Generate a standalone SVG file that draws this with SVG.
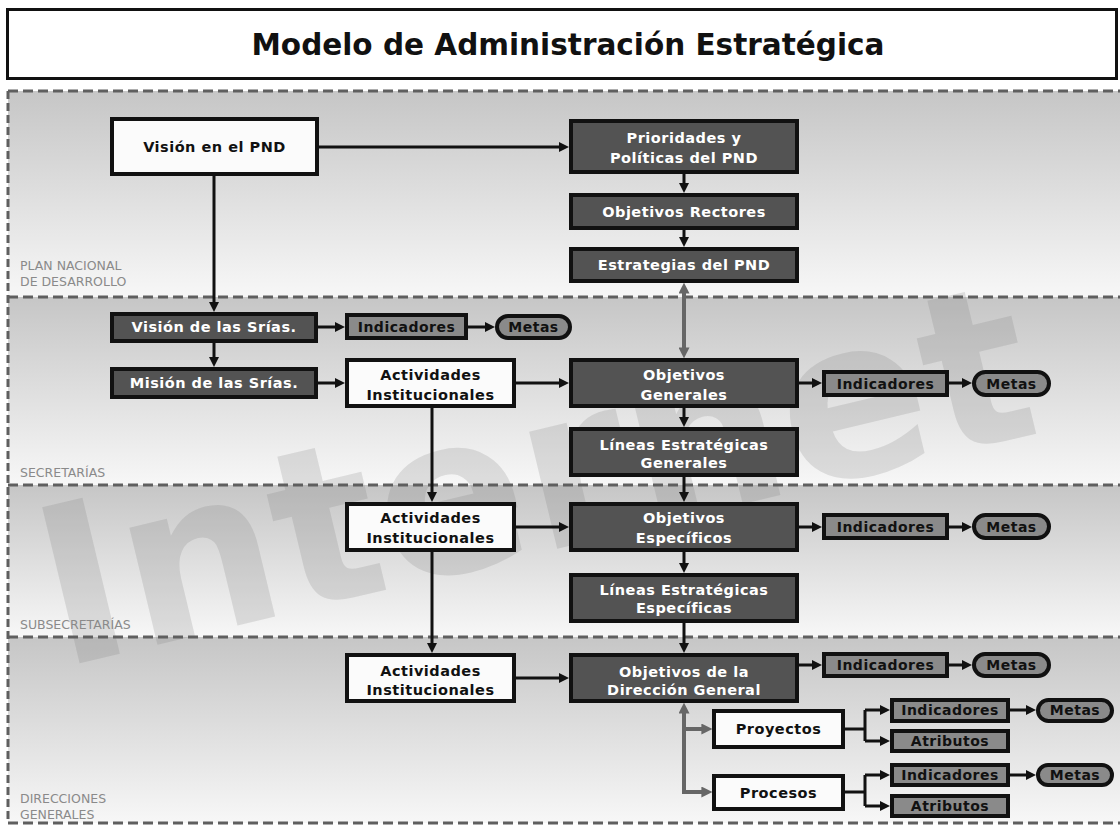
<svg xmlns="http://www.w3.org/2000/svg" width="1120" height="826" viewBox="0 0 1120 826">
<defs>
<linearGradient id="bg" x1="0" y1="0" x2="0" y2="1">
<stop offset="0" stop-color="#c6c6c6"/>
<stop offset="1" stop-color="#f7f7f7"/>
</linearGradient>
<marker id="ah" viewBox="0 0 10 10" refX="6" refY="5" markerWidth="10" markerHeight="10" markerUnits="userSpaceOnUse" orient="auto-start-reverse">
<path d="M0,0 L10,5 L0,10 z" fill="#111"/>
</marker>
<marker id="gh" viewBox="0 0 10 10" refX="6" refY="5" markerWidth="11" markerHeight="11" markerUnits="userSpaceOnUse" orient="auto-start-reverse">
<path d="M0,0 L10,5 L0,10 z" fill="#666"/>
</marker>
<style>
.nd rect{stroke:#111;stroke-width:4}
.dark{fill:#535353}
.white{fill:#fbfbfb}
.gray{fill:#8a8a8a}
.t{font-family:"DejaVu Sans",Verdana,sans-serif;font-weight:bold;font-size:14.5px;text-anchor:middle;letter-spacing:0.5px}
.s{font-size:14px}
.tw{fill:#ffffff}
.tb{fill:#111111}
.lbl{font-family:"DejaVu Sans",sans-serif;font-size:12.5px;fill:#8a8a8a}
.ln{fill:none;stroke:#111;stroke-width:3;marker-end:url(#ah)}
.lp{fill:none;stroke:#111;stroke-width:3}
.gl{fill:none;stroke:#666;stroke-width:4}
.dash{stroke:#5f5f5f;stroke-width:3;stroke-dasharray:10 5;fill:none}
</style>
</defs>

<rect x="0" y="0" width="1120" height="826" fill="#ffffff"/>

<!-- bands -->
<g id="bands">
<rect x="8" y="91" width="1112" height="206" fill="url(#bg)"/>
<rect x="8" y="297" width="1112" height="188" fill="url(#bg)"/>
<rect x="8" y="485" width="1112" height="152" fill="url(#bg)"/>
<rect x="8" y="637" width="1112" height="186" fill="url(#bg)"/>
</g>

<!-- watermark -->
<text x="60" y="668" transform="rotate(-13.5 60 668)" font-family="DejaVu Sans, sans-serif" font-weight="bold" font-size="220" fill="#7a7a7a" fill-opacity="0.2">Internet</text>

<g id="band-lines">
<path class="dash" d="M8,91 H1120 M8,297 H1120 M8,485 H1120 M8,637 H1120 M8,823 H1120"/>
<path class="dash" d="M8,91 V823" style="stroke-dasharray:8 4"/>
</g>

<g id="band-labels">
<text class="lbl" x="20" y="270">PLAN NACIONAL</text>
<text class="lbl" x="20" y="286">DE DESARROLLO</text>
<text class="lbl" x="20" y="477">SECRETARÍAS</text>
<text class="lbl" x="20" y="629">SUBSECRETARÍAS</text>
<text class="lbl" x="20" y="803">DIRECCIONES</text>
<text class="lbl" x="20" y="819">GENERALES</text>
</g>

<g id="title">
<rect x="7.5" y="9.5" width="1109" height="69" fill="#ffffff" stroke="#111" stroke-width="3"/>
<text x="568" y="55" text-anchor="middle" font-family="DejaVu Sans, Verdana, sans-serif" font-weight="bold" font-size="29.5" fill="#111">Modelo de Administración Estratégica</text>
</g>

<g id="connectors">
<path class="ln" d="M319,147 H565"/>
<path class="ln" d="M214,176 V308"/>
<path class="ln" d="M684,174 V189"/>
<path class="ln" d="M684,230 V243"/>
<path class="ln" d="M318,327 H341"/>
<path class="ln" d="M468,327 H491"/>
<path class="ln" d="M214,343 V363"/>
<path class="ln" d="M318,383 H341"/>
<path class="ln" d="M516,383 H565"/>
<path class="ln" d="M799,383 H818"/>
<path class="ln" d="M949,383 H968"/>
<path class="ln" d="M684,408 V423"/>
<path class="ln" d="M684,477 V498"/>
<path class="ln" d="M432,408 V498"/>
<path class="ln" d="M516,527 H565"/>
<path class="ln" d="M799,527 H818"/>
<path class="ln" d="M949,527 H968"/>
<path class="ln" d="M684,552 V569"/>
<path class="ln" d="M684,623 V649"/>
<path class="ln" d="M432,552 V649"/>
<path class="ln" d="M516,678 H565"/>
<path class="ln" d="M799,665 H818"/>
<path class="ln" d="M949,665 H968"/>
<path class="lp" d="M845,729 H865 M865,710 V741"/>
<path class="ln" d="M865,710 H886"/>
<path class="ln" d="M865,741 H886"/>
<path class="ln" d="M1010,710 H1032"/>
<path class="lp" d="M845,792 H865 M865,775 V806"/>
<path class="ln" d="M865,775 H886"/>
<path class="ln" d="M865,806 H886"/>
<path class="ln" d="M1010,775 H1032"/>
<path class="gl" d="M684,287 V354" marker-start="url(#gh)" marker-end="url(#gh)"/>
<path class="gl" d="M684,707 V792 H708" marker-start="url(#gh)" marker-end="url(#gh)"/>
<path class="gl" d="M684,729 H708" marker-end="url(#gh)"/>
</g>

<g id="vision-pnd" class="nd"><rect class="white" x="112" y="119" width="205" height="55"/><text class="t tb" x="214.5" y="152">Visión en el PND</text></g>
<g id="prioridades" class="nd"><rect class="dark" x="571" y="121" width="226" height="51"/><text class="t tw" x="684" y="143">Prioridades y</text><text class="t tw" x="684" y="163">Políticas del PND</text></g>
<g id="objetivos-rectores" class="nd"><rect class="dark" x="571" y="195" width="226" height="33"/><text class="t tw" x="684" y="217">Objetivos Rectores</text></g>
<g id="estrategias-pnd" class="nd"><rect class="dark" x="571" y="249" width="226" height="32"/><text class="t tw" x="684" y="270">Estrategias del PND</text></g>

<g id="vision-srias" class="nd"><rect class="dark" x="112" y="314" width="204" height="27"/><text class="t tw" x="214" y="332">Visión de las Srías.</text></g>
<g id="indicadores-srias" class="nd"><rect class="gray" x="347" y="315" width="119" height="23"/><text class="t s tb" x="406.5" y="331.5">Indicadores</text></g>
<g id="metas-srias" class="nd"><rect class="gray" x="497" y="316" width="73" height="22" rx="11"/><text class="t s tb" x="533.5" y="332">Metas</text></g>
<g id="mision-srias" class="nd"><rect class="dark" x="112" y="369" width="204" height="28"/><text class="t tw" x="214" y="388">Misión de las Srías.</text></g>
<g id="actividades-1" class="nd"><rect class="white" x="347" y="360" width="167" height="46"/><text class="t tb" x="430.5" y="380">Actividades</text><text class="t tb" x="430.5" y="400">Institucionales</text></g>
<g id="objetivos-generales" class="nd"><rect class="dark" x="571" y="360" width="226" height="46"/><text class="t tw" x="684" y="380">Objetivos</text><text class="t tw" x="684" y="400">Generales</text></g>
<g id="indicadores-gen" class="nd"><rect class="gray" x="824" y="372" width="123" height="23"/><text class="t s tb" x="885.5" y="388.5">Indicadores</text></g>
<g id="metas-gen" class="nd"><rect class="gray" x="974" y="372" width="75" height="23" rx="11.5"/><text class="t s tb" x="1011.5" y="388.5">Metas</text></g>
<g id="lineas-generales" class="nd"><rect class="dark" x="571" y="429" width="226" height="46"/><text class="t tw" x="684" y="450">Líneas Estratégicas</text><text class="t tw" x="684" y="468">Generales</text></g>

<g id="actividades-2" class="nd"><rect class="white" x="347" y="504" width="167" height="46"/><text class="t tb" x="430.5" y="523">Actividades</text><text class="t tb" x="430.5" y="543">Institucionales</text></g>
<g id="objetivos-especificos" class="nd"><rect class="dark" x="571" y="504" width="226" height="46"/><text class="t tw" x="684" y="523">Objetivos</text><text class="t tw" x="684" y="543">Específicos</text></g>
<g id="indicadores-esp" class="nd"><rect class="gray" x="824" y="515" width="123" height="23"/><text class="t s tb" x="885.5" y="531.5">Indicadores</text></g>
<g id="metas-esp" class="nd"><rect class="gray" x="974" y="515" width="75" height="23" rx="11.5"/><text class="t s tb" x="1011.5" y="531.5">Metas</text></g>
<g id="lineas-especificas" class="nd"><rect class="dark" x="571" y="575" width="226" height="46"/><text class="t tw" x="684" y="595">Líneas Estratégicas</text><text class="t tw" x="684" y="613">Específicas</text></g>

<g id="actividades-3" class="nd"><rect class="white" x="347" y="655" width="167" height="46"/><text class="t tb" x="430.5" y="676">Actividades</text><text class="t tb" x="430.5" y="695">Institucionales</text></g>
<g id="objetivos-dg" class="nd"><rect class="dark" x="571" y="655" width="226" height="46"/><text class="t tw" x="684" y="677">Objetivos de la</text><text class="t tw" x="684" y="695">Dirección General</text></g>
<g id="indicadores-dg" class="nd"><rect class="gray" x="824" y="654" width="123" height="22"/><text class="t s tb" x="885.5" y="670">Indicadores</text></g>
<g id="metas-dg" class="nd"><rect class="gray" x="974" y="654" width="75" height="22" rx="11"/><text class="t s tb" x="1011.5" y="670">Metas</text></g>

<g id="proyectos" class="nd"><rect class="white" x="714" y="711" width="129" height="36"/><text class="t tb" x="778.5" y="734">Proyectos</text></g>
<g id="procesos" class="nd"><rect class="white" x="714" y="776" width="129" height="33"/><text class="t tb" x="778.5" y="797.5">Procesos</text></g>
<g id="indicadores-proy" class="nd"><rect class="gray" x="892" y="700" width="116" height="21"/><text class="t s tb" x="950" y="715">Indicadores</text></g>
<g id="atributos-proy" class="nd"><rect class="gray" x="892" y="731" width="116" height="20"/><text class="t s tb" x="950" y="746">Atributos</text></g>
<g id="metas-proy" class="nd"><rect class="gray" x="1038" y="700" width="74" height="21" rx="10.5"/><text class="t s tb" x="1075" y="715">Metas</text></g>
<g id="indicadores-proc" class="nd"><rect class="gray" x="892" y="765" width="116" height="20"/><text class="t s tb" x="950" y="780">Indicadores</text></g>
<g id="atributos-proc" class="nd"><rect class="gray" x="892" y="796" width="116" height="20"/><text class="t s tb" x="950" y="811">Atributos</text></g>
<g id="metas-proc" class="nd"><rect class="gray" x="1038" y="765" width="74" height="20" rx="10"/><text class="t s tb" x="1075" y="780">Metas</text></g>
</svg>
